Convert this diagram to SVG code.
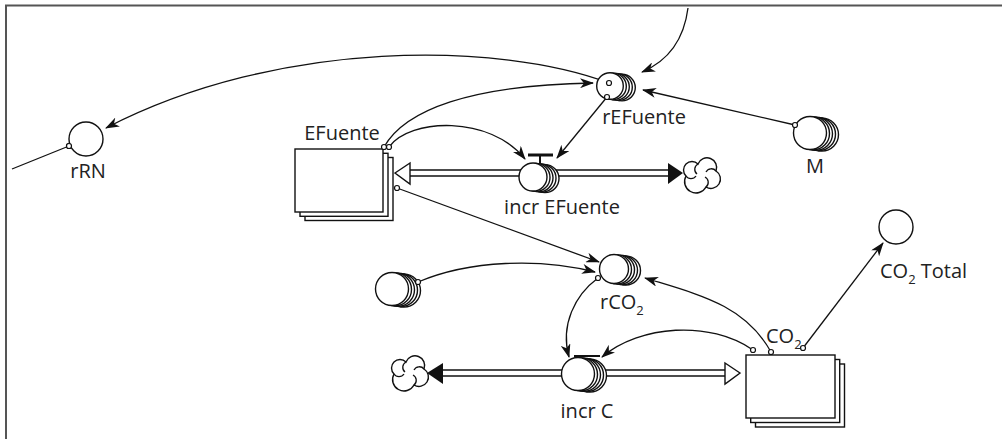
<svg xmlns="http://www.w3.org/2000/svg" width="1002" height="439" viewBox="0 0 1002 439">
<style>
.t{font-family:"Open Sans","Liberation Sans",sans-serif;font-size:20px;fill:#222}
.s{font-size:13px}
.c{fill:none;stroke:#111;stroke-width:1.3}
.o{fill:#fff;stroke:#111;stroke-width:1.2}
.n{fill:#fff;stroke:#111;stroke-width:1.4}
.p{stroke:#111;stroke-width:1.4;fill:none}
</style>
<defs>
<marker id="ah" viewBox="0 0 14 10" refX="13" refY="5" markerWidth="14" markerHeight="10" markerUnits="userSpaceOnUse" orient="auto">
<path d="M0,0 L14,5 L0,10 L4,5 z" fill="#111"/>
</marker>
<g id="cloud">
<path class="n" d="M-15,1 A8,8 0 0 1 -3,-11 A8,8 0 0 1 15,-4 A8,8 0 0 1 5,12 A8,8 0 0 1 -15,1 Z"/>
<path class="c" d="M-3,-11 A6,6 0 0 0 -4,-1 M15,-4 A6,6 0 0 0 5,-3 M5,12 A6,6 0 0 0 4,2 M-15,1 A6,6 0 0 0 -5,1"/>
</g>
</defs>
<rect width="1002" height="439" fill="#fff"/>
<path d="M6,439 L6,5.5 L1002,5.5" fill="none" stroke="#555" stroke-width="2"/>

<g id="connectors">
<path class="c" d="M609,83 C500,42 280,38 106,128" marker-end="url(#ah)"/>
<path class="c" d="M69,146 L12,169"/>
<path class="c" d="M688,8 Q682,55 642,72" marker-end="url(#ah)"/>
<path class="c" d="M795,125 L643,90" marker-end="url(#ah)"/>
<path class="c" d="M384,147 C405,110 470,85 593,83" marker-end="url(#ah)"/>
<path class="c" d="M389,147 C410,118 490,115 525,159" marker-end="url(#ah)"/>
<path class="c" d="M607,97 L557,158" marker-end="url(#ah)"/>
<path class="c" d="M397,188 L599,262" marker-end="url(#ah)"/>
<path class="c" d="M418,282 C470,260 540,258 595,272" marker-end="url(#ah)"/>
<path class="c" d="M598,278 C575,295 560,325 569,357" marker-end="url(#ah)"/>
<path class="c" d="M753,350 C710,320 640,325 602,357" marker-end="url(#ah)"/>
<path class="c" d="M771,352 C745,305 700,295 645,278" marker-end="url(#ah)"/>
<path class="c" d="M803,348 L883,243" marker-end="url(#ah)"/>
<circle class="o" cx="69" cy="146" r="2.5"/>
</g>

<g id="flow-incr-EFuente">
<line class="p" x1="408" y1="170" x2="669" y2="170"/>
<line class="p" x1="408" y1="176" x2="669" y2="176"/>
<polygon class="n" points="395,173 410,163 410,184"/>
<polygon points="683,173 668,163 668,184" fill="#111"/>
<use href="#cloud" x="701" y="175"/>
</g>

<g id="flow-incr-C">
<line class="p" x1="441" y1="370" x2="727" y2="370"/>
<line class="p" x1="441" y1="376" x2="727" y2="376"/>
<polygon points="427,373 443,363 443,384" fill="#111"/>
<polygon class="n" points="740,373 725,363 725,384"/>
<use href="#cloud" x="409" y="373"/>
</g>

<g id="rRN">
<circle class="n" cx="86" cy="139" r="17"/>
<circle class="o" cx="69" cy="146" r="2.5"/>
<text class="t" x="88" y="178" text-anchor="middle">rRN</text>
</g>

<g id="rEFuente">
<circle class="n" cx="622" cy="87.6" r="13.3"/>
<circle class="n" cx="619" cy="87.2" r="13.3"/>
<circle class="n" cx="616" cy="86.8" r="13.3"/>
<circle class="n" cx="613" cy="86.4" r="13.3"/>
<circle class="n" cx="610" cy="86" r="13.3"/>
<circle class="o" cx="609" cy="83" r="2.5"/>
<circle class="o" cx="607" cy="97" r="2.5"/>
<text class="t" x="644" y="124" text-anchor="middle">rEFuente</text>
</g>

<g id="M">
<circle class="n" cx="822" cy="134.6" r="16.5"/>
<circle class="n" cx="819" cy="134.2" r="16.5"/>
<circle class="n" cx="816" cy="133.8" r="16.5"/>
<circle class="n" cx="813" cy="133.4" r="16.5"/>
<circle class="n" cx="810" cy="133" r="16.5"/>
<circle class="o" cx="795" cy="125" r="2.5"/>
<text class="t" x="815" y="173" text-anchor="middle">M</text>
</g>

<g id="EFuente">
<rect class="n" x="305" y="157.5" width="88" height="63"/>
<rect class="n" x="300" y="153.3" width="88" height="63"/>
<rect class="n" x="295" y="149" width="88" height="63"/>
<circle class="o" cx="384" cy="147" r="2.5"/>
<circle class="o" cx="389" cy="147" r="2.5"/>
<circle class="o" cx="397" cy="188" r="2.5"/>
<text class="t" x="342" y="140" text-anchor="middle">EFuente</text>
</g>

<g id="incr-EFuente">
<circle class="n" cx="545" cy="178.6" r="14"/>
<circle class="n" cx="542" cy="178.2" r="14"/>
<circle class="n" cx="539" cy="177.8" r="14"/>
<circle class="n" cx="536" cy="177.4" r="14"/>
<circle class="n" cx="533" cy="177" r="14"/>
<line x1="528" y1="155" x2="553" y2="155" stroke="#111" stroke-width="3"/>
<line x1="540" y1="155" x2="540" y2="163.5" stroke="#111" stroke-width="2"/>
<text class="t" x="562" y="214" text-anchor="middle">incr EFuente</text>
</g>

<g id="rCO2">
<circle class="n" cx="626" cy="270.6" r="14.5"/>
<circle class="n" cx="623" cy="270.2" r="14.5"/>
<circle class="n" cx="620" cy="269.8" r="14.5"/>
<circle class="n" cx="617" cy="269.4" r="14.5"/>
<circle class="n" cx="614" cy="269" r="14.5"/>
<circle class="o" cx="598" cy="278" r="2.5"/>
<text class="t" x="600" y="309">rCO<tspan class="s" dy="6">2</tspan></text>
</g>

<g id="source-var">
<circle class="n" cx="404" cy="290.6" r="16.5"/>
<circle class="n" cx="401" cy="290.2" r="16.5"/>
<circle class="n" cx="398" cy="289.8" r="16.5"/>
<circle class="n" cx="395" cy="289.4" r="16.5"/>
<circle class="n" cx="392" cy="289" r="16.5"/>
<circle class="o" cx="418" cy="282" r="2.5"/>
</g>

<g id="incr-C">
<circle class="n" cx="590" cy="375.6" r="16.5"/>
<circle class="n" cx="587" cy="375.2" r="16.5"/>
<circle class="n" cx="584" cy="374.8" r="16.5"/>
<circle class="n" cx="581" cy="374.4" r="16.5"/>
<circle class="n" cx="578" cy="374" r="16.5"/>
<line x1="574" y1="356" x2="600" y2="356" stroke="#111" stroke-width="2"/>
<text class="t" x="587" y="418" text-anchor="middle">incr C</text>
</g>

<g id="CO2">
<rect class="n" x="755.5" y="364" width="89" height="63"/>
<rect class="n" x="750.7" y="359.5" width="89" height="63"/>
<rect class="n" x="746" y="355" width="89" height="63"/>
<circle class="o" cx="753" cy="350" r="2.5"/>
<circle class="o" cx="771" cy="352" r="2.5"/>
<circle class="o" cx="803" cy="348" r="2.5"/>
<text class="t" x="766" y="343">CO<tspan class="s" dy="6">2</tspan></text>
</g>

<g id="CO2-Total">
<circle class="n" cx="896" cy="227" r="17"/>
<text class="t" x="880" y="278">CO<tspan class="s" dy="6">2</tspan><tspan dy="-6"> Total</tspan></text>
</g>
</svg>
